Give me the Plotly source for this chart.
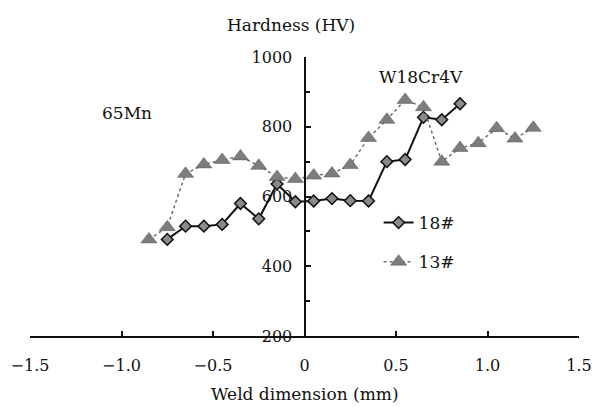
import plotly.graph_objects as go

# ---- data ----
x18 = [-0.75, -0.65, -0.55, -0.45, -0.35, -0.25, -0.15, -0.05, 0.05, 0.15, 0.25, 0.35, 0.45, 0.55, 0.65, 0.75, 0.85]
y18 = [477, 515, 515, 520, 580, 536, 636, 585, 587, 594, 588, 587, 700, 706, 827, 820, 866]

x13 = [-0.85, -0.75, -0.65, -0.55, -0.45, -0.35, -0.25, -0.15, -0.05, 0.05, 0.15,
       0.25, 0.35, 0.45, 0.55, 0.65, 0.75, 0.85, 0.95, 1.05, 1.15, 1.25]
y13 = [477, 512, 665, 692, 705, 715, 688, 656, 650, 660, 666,
       690, 768, 820, 877, 856, 700, 739, 753, 796, 766, 797]

x_ticks = [-1.5, -1.0, -0.5, 0, 0.5, 1.0, 1.5]
x_ticklabels = ["\u22121.5", "\u22121.0", "\u22120.5", "0", "0.5", "1.0", "1.5"]
y_ticks = [200, 400, 600, 800, 1000]

FONT = "DejaVu Serif"

fig = go.Figure()
fig.add_trace(go.Scatter(
    x=x18, y=y18, name="18#", mode="lines+markers", legendgroup="a",
    line=dict(color="#111111", width=2),
    marker=dict(symbol="diamond", size=9, color="#8a8a8a",
                line=dict(color="#111111", width=1.5)),
))
fig.add_trace(go.Scatter(
    x=x13, y=y13, name="13#", mode="lines+markers", legendgroup="b",
    line=dict(color="#6f6f6f", width=1.5, dash="dot"),
    marker=dict(symbol="triangle-up", size=14, color="#7d7d7d",
                line=dict(color="#555555", width=0.5)),
))

T, B = 57, 71
ph = 407 - T - B

fig.update_layout(
    width=596, height=407,
    margin=dict(l=30, r=17, t=T, b=B, autoexpand=False),
    paper_bgcolor="white", plot_bgcolor="white",
    font=dict(family=FONT, size=16, color="#111111"),
    showlegend=True,
    legend=dict(x=0.635, y=0.335, xanchor="left", yanchor="middle",
                bgcolor="rgba(0,0,0,0)", font=dict(size=17),
                traceorder="grouped", tracegroupgap=14),
    xaxis=dict(range=[-1.5, 1.5], tickvals=x_ticks, ticktext=x_ticklabels,
               showgrid=False, zeroline=False, showline=True, automargin=False,
               linecolor="#111111", linewidth=2,
               ticks="inside", ticklen=5, tickwidth=1.5, tickcolor="#111111",
               ticklabelstandoff=14, tickfont=dict(size=16)),
    yaxis=dict(range=[200, 1000], tickvals=y_ticks, automargin=False,
               showgrid=False, zeroline=False, showline=True,
               linecolor="#111111", linewidth=2,
               anchor="free", position=0.5, side="left",
               ticks="inside", ticklen=5, tickwidth=1.5, tickcolor="#111111",
               minor=dict(ticks="inside", ticklen=4, dtick=100, tickcolor="#111111", tickwidth=1.5),
               ticklabelstandoff=8, tickfont=dict(size=16)),
    annotations=[
        dict(text="Hardness (HV)", x=0.475, y=1 + (T - 25) / ph, xref="paper", yref="paper",
             yanchor="middle", showarrow=False, font=dict(size=17)),
        dict(text="Weld dimension (mm)", x=0.5, y=-(394 - 336) / ph, xref="paper", yref="paper",
             yanchor="middle", showarrow=False, font=dict(size=17)),
        dict(text="W18Cr4V", x=0.638, y=942, xref="x", yref="y",
             showarrow=False, font=dict(size=17)),
        dict(text="65Mn", x=-0.97, y=839, xref="x", yref="y",
             showarrow=False, font=dict(size=17)),
    ],
)

fig.write_html("out.html", config={"displayModeBar": False},
               post_script="document.body.style.margin='0';document.body.style.overflow='hidden';")
